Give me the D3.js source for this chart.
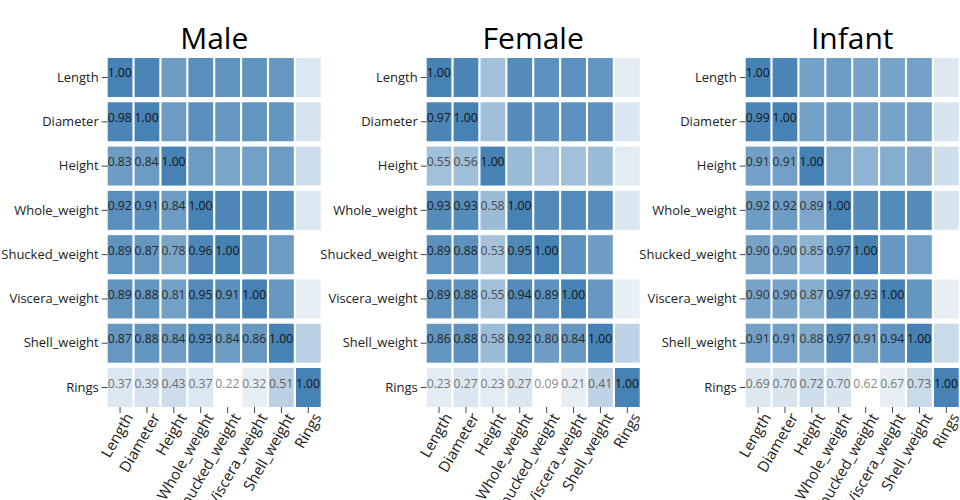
<!DOCTYPE html>
<html>
<head>
<meta charset="utf-8">
<script src="https://cdn.jsdelivr.net/npm/d3@7"></script>
<style>
  body { margin: 0; background: #fff; }
  svg text { font-family: "Open Sans", sans-serif; }
  .axis path.domain { display: none; }
  .axis line { stroke: #444; }
  .axis text { fill: #222; }
</style>
</head>
<body>
<div id="chart"></div>
<script>
const features = ["Length", "Diameter", "Height", "Whole_weight", "Shucked_weight", "Viscera_weight", "Shell_weight", "Rings"];
const groups = ["Male", "Female", "Infant"];

// lower triangle (row by row, diagonal included)
const male = [
  [1.00],
  [0.98, 1.00],
  [0.83, 0.84, 1.00],
  [0.92, 0.91, 0.84, 1.00],
  [0.89, 0.87, 0.78, 0.96, 1.00],
  [0.89, 0.88, 0.81, 0.95, 0.91, 1.00],
  [0.87, 0.88, 0.84, 0.93, 0.84, 0.86, 1.00],
  [0.37, 0.39, 0.43, 0.37, 0.22, 0.32, 0.51, 1.00]
];
const female = [
  [1.00],
  [0.97, 1.00],
  [0.55, 0.56, 1.00],
  [0.93, 0.93, 0.58, 1.00],
  [0.89, 0.88, 0.53, 0.95, 1.00],
  [0.89, 0.88, 0.55, 0.94, 0.89, 1.00],
  [0.86, 0.88, 0.58, 0.92, 0.80, 0.84, 1.00],
  [0.23, 0.27, 0.23, 0.27, 0.09, 0.21, 0.41, 1.00]
];
const infant = [
  [1.00],
  [0.99, 1.00],
  [0.91, 0.91, 1.00],
  [0.92, 0.92, 0.89, 1.00],
  [0.90, 0.90, 0.85, 0.97, 1.00],
  [0.90, 0.90, 0.87, 0.97, 0.93, 1.00],
  [0.91, 0.91, 0.88, 0.97, 0.91, 0.94, 1.00],
  [0.69, 0.70, 0.72, 0.70, 0.62, 0.67, 0.73, 1.00]
];
const matrices = [male, female, infant];

const width = 960, height = 500;
const panelW = 319;

const svg = d3.select("#chart").append("svg")
    .attr("width", width)
    .attr("height", height);

const x = d3.scaleBand().domain(features).range([107.7, 320.7]).paddingInner(0.08).paddingOuter(0);
const y = d3.scaleBand().domain(features).range([58, 407]).paddingInner(0.12).paddingOuter(0);

const drawPanel = (g, name, lower)=>{
    // full symmetric cells, text only on lower triangle
    const cells = [];
    features.forEach((rf, i)=>{
        features.forEach((cf, j)=>{
            const v = j <= i ? lower[i][j] : lower[j][i];
            cells.push({row: rf, col: cf, value: v, lower: j <= i});
        });
    });
    const minV = d3.min(cells, d=>d.value);
    const color = d3.scaleLinear().domain([minV, 1]).range(["white", "steelblue"]);
    const textColor = d3.scaleLinear().domain([minV, 1]).range(["#888", "#111"]);

    g.append("text")
        .attr("x", (x.range()[0] + x.range()[1]) / 2)
        .attr("y", 49)
        .attr("text-anchor", "middle")
        .style("font-size", "30px")
        .style("fill", "#000")
        .text(name);

    g.selectAll("rect.cell").data(cells).enter()
        .append("rect")
        .attr("class", "cell")
        .attr("x", d=>x(d.col))
        .attr("y", d=>y(d.row))
        .attr("width", x.bandwidth())
        .attr("height", y.bandwidth())
        .style("fill", d=>color(d.value));

    g.selectAll("text.val").data(cells.filter(d=>d.lower)).enter()
        .append("text")
        .attr("class", "val")
        .attr("x", d=>x(d.col))
        .attr("y", d=>y(d.row) + y.bandwidth() / 2)
        .style("font-size", "12.2px")
        .style("fill", d=>textColor(d.value))
        .text(d=>d.value.toFixed(2));

    g.append("g")
        .attr("class", "axis")
        .attr("transform", `translate(${x.range()[0]},0)`)
        .call(d3.axisLeft(y).tickSizeOuter(0))
        .selectAll("text")
        .style("font-size", "13px");

    g.append("g")
        .attr("class", "axis")
        .attr("transform", `translate(0,${y.range()[1]})`)
        .call(d3.axisBottom(x).tickSizeOuter(0))
        .selectAll("text")
        .style("font-size", "15px")
        .style("text-anchor", "end")
        .attr("x", 0)
        .attr("y", 0)
        .attr("dy", "0")
        .attr("transform", "translate(13.5,10) rotate(-60)");
};

groups.forEach((name, k)=>{
    const g = svg.append("g").attr("transform", `translate(${k * panelW},0)`);
    drawPanel(g, name, matrices[k]);
});
</script>
</body>
</html>
